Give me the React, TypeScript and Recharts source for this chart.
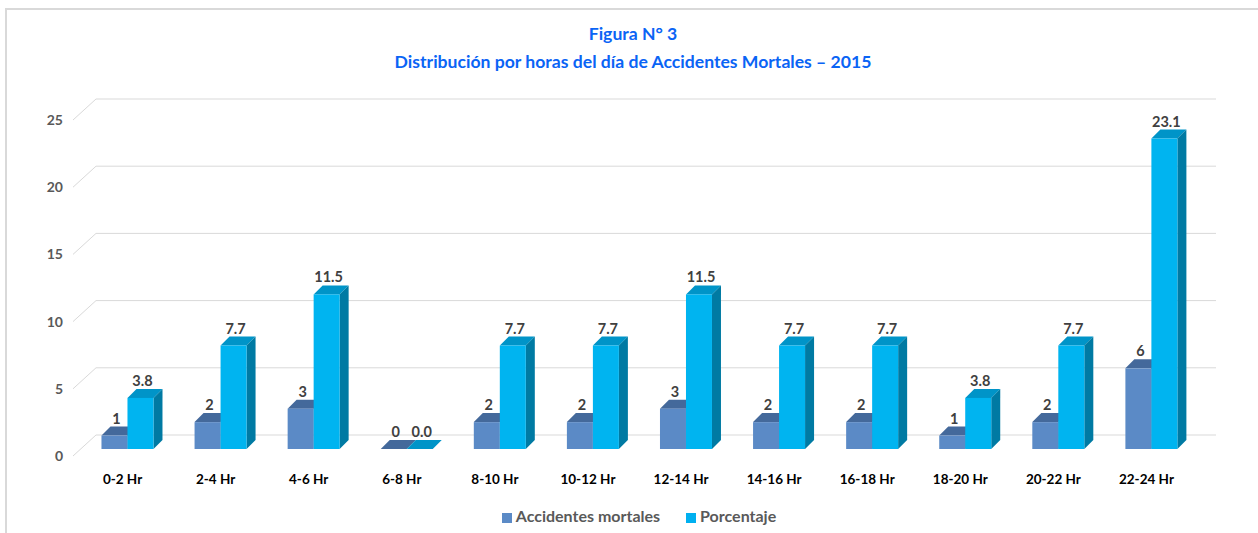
import { BarChart, Bar, XAxis, YAxis, CartesianGrid, Legend, LabelList } from "recharts";

const HOURS = [
  "0-2 Hr", "2-4 Hr", "4-6 Hr", "6-8 Hr", "8-10 Hr", "10-12 Hr",
  "12-14 Hr", "14-16 Hr", "16-18 Hr", "18-20 Hr", "20-22 Hr", "22-24 Hr",
];
const ACCIDENTES = [1, 2, 3, 0, 2, 2, 3, 2, 2, 1, 2, 6];
const PORCENTAJE = [3.8, 7.7, 11.5, 0.0, 7.7, 7.7, 11.5, 7.7, 7.7, 3.8, 7.7, 23.1];
const Y_TICKS = [0, 5, 10, 15, 20, 25];

const data = HOURS.map((h, i) => ({
  hora: h,
  accidentes: ACCIDENTES[i],
  porcentaje: PORCENTAJE[i],
}));

const FONT = "Lato, 'Open Sans', sans-serif";
const DEPTH = 9;

function Prism(front: string, top: string, side: string) {
  return (props: any) => {
    const { x, y, width, height } = props;
    const d = DEPTH;
    const h = Math.max(height, 0);
    return (
      <g>
        <polygon
          points={`${x},${y} ${x + d},${y - d} ${x + width + d},${y - d} ${x + width},${y}`}
          fill={top}
        />
        <polygon
          points={`${x + width},${y} ${x + width + d},${y - d} ${x + width + d},${y + h - d} ${x + width},${y + h}`}
          fill={side}
        />
        {h > 0 && <rect x={x} y={y} width={width} height={h} fill={front} />}
      </g>
    );
  };
}

function valueLabel(decimals: number) {
  return (props: any) => {
    const { x, y, width, value } = props;
    return (
      <text
        x={x + width / 2 + 2}
        y={y - 12}
        textAnchor="middle"
        fontFamily={FONT}
        fontWeight={700}
        fontSize={14.5}
        fill="#404040"
      >
        {Number(value).toFixed(decimals)}
      </text>
    );
  };
}

function GridLine(props: any) {
  const { x1, x2, y1 } = props;
  return (
    <g key={`g-${y1}`}>
      <line x1={x1 - 8} y1={y1 + 7} x2={x1 + 15} y2={y1 - 14} stroke="#d9d9d9" strokeWidth={1} />
      <line x1={x1 + 15} y1={y1 - 14} x2={x2 + 18} y2={y1 - 14} stroke="#d9d9d9" strokeWidth={1} />
    </g>
  );
}

function YTick(props: any) {
  const { x, y, payload } = props;
  return (
    <text x={x - 10} y={y + 12} textAnchor="end" fontFamily={FONT} fontWeight={700} fontSize={14} fill="#595959">
      {payload.value}
    </text>
  );
}

function XTick(props: any) {
  const { x, y, payload } = props;
  return (
    <text x={x - 5} y={y + 27} textAnchor="middle" fontFamily={FONT} fontWeight={700} fontSize={13.5} fill="#000">
      {payload.value}
    </text>
  );
}

export default function App() {
  return (
    <div style={{ position: "relative", width: 1258, height: 533, background: "#fff", fontFamily: FONT }}>
      <style>{`body{margin:0}`}</style>
      <div style={{ position: "absolute", left: 5, top: 8, right: 0, bottom: 0, borderTop: "2px solid #d9d9d9", borderLeft: "2px solid #d9d9d9" }} />
      <div style={{ position: "absolute", left: 0, width: 1266, top: 20, textAlign: "center", color: "#0a64f5", fontWeight: 700, fontSize: 17.6, lineHeight: "28px" }}>
        <div>Figura N° 3</div>
        <div>Distribución por horas del día de Accidentes Mortales – 2015</div>
      </div>
      <BarChart
        width={1258}
        height={533}
        data={data}
        margin={{ top: 113, right: 60, left: 0, bottom: 41 }}
        barCategoryGap="22%"
        barGap={0}
        style={{ position: "absolute", left: 0, top: 0 }}
      >
        <CartesianGrid vertical={false} horizontal={GridLine as any} />
        <XAxis dataKey="hora" axisLine={false} tickLine={false} tick={XTick} interval={0} height={24} />
        <YAxis domain={[0, 25]} ticks={Y_TICKS} axisLine={false} tickLine={false} tick={YTick} width={81} />
        <Legend
          verticalAlign="bottom"
          align="center"
          iconType="square"
          iconSize={10}
          wrapperStyle={{ top: 506, left: 18, width: 1268, fontFamily: FONT, fontSize: 16, fontWeight: 700 }}
          formatter={(v: string) => <span style={{ color: "#595959", marginRight: 16 }}>{v}</span>}
        />
        <Bar dataKey="accidentes" name="Accidentes mortales" fill="#5b8ac6" shape={Prism("#5b8ac6", "#44699b", "#44699b")} isAnimationActive={false}>
          <LabelList dataKey="accidentes" content={valueLabel(0)} />
        </Bar>
        <Bar dataKey="porcentaje" name="Porcentaje" fill="#00b0f0" shape={Prism("#00b4f0", "#0094c8", "#007aa3")} isAnimationActive={false}>
          <LabelList dataKey="porcentaje" content={valueLabel(1)} />
        </Bar>
      </BarChart>
    </div>
  );
}
